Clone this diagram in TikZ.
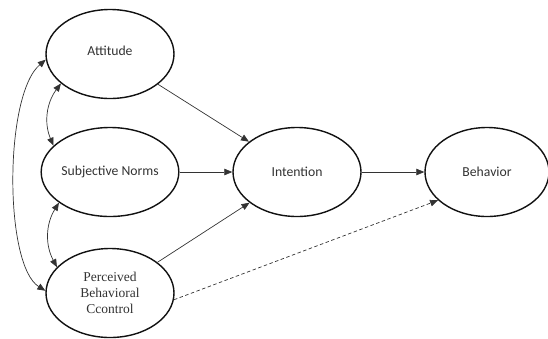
\documentclass[tikz,border=0pt]{standalone}
\usepackage{fontspec}
\setmainfont{Carlito}
\newfontfamily\pbcfont{Liberation Serif}
\usepackage{tikz}
\usetikzlibrary{shapes}
\usetikzlibrary{arrows.meta}
\usetikzlibrary{calc}
\usepackage{xcolor}
\definecolor{myblack}{HTML}{111111}
\definecolor{mygray}{HTML}{333333}
\tikzset{every text node part/.style={align=center, font={\fontsize{13.7}{16}\selectfont}}}
\tikzstyle{construct} = [ellipse, draw=myblack, fill=white, line width=1.4pt, minimum width=128pt, minimum height=89pt, inner sep=0pt, text=black!80]
\tikzstyle{ln} = [draw=mygray, line width=0.7pt, arrows={-Triangle[length=8pt, width=6.5pt]}]
\tikzstyle{dln} = [ln, dashed, dash pattern=on 3.5pt off 2.5pt]
\tikzstyle{cov} = [draw=mygray, line width=0.7pt, arrows={Triangle[length=8pt, width=6.5pt]-Triangle[length=8pt, width=6.5pt]}]

\begin{document}
\begin{tikzpicture}[x=1pt, y=-1pt]
  \useasboundingbox (0,0) rectangle (548,338);
  \node[construct] (attitude) at (110,54) {\raisebox{7pt}{Attitude}};
  \node[construct] (norms) at (110,172) {Subjective Norms};
  \node[construct] (control) at (110,293) {\pbcfont\fontsize{13.5}{16.5}\selectfont Perceived\\ \pbcfont\fontsize{13.5}{16.5}\selectfont Behavioral\\ \pbcfont\fontsize{13.5}{16.5}\selectfont Ccontrol};
  \node[construct] (intention) at (297,172) {Intention};
  \node[construct, minimum width=124pt] (behavior) at (487,172) {Behavior};
  \path[ln] (attitude) -- (intention);
  \path[ln] (norms) -- (intention);
  \path[ln] (control) -- (intention);
  \path[ln] (intention) -- (behavior);
  \path[dln] (control.-6) -- (behavior.210);
  \path[cov] (attitude.211) to[bend right=30] (norms.155);
  \path[cov] (norms.211) to[bend right=30] (control.154);
  \path[cov] (attitude.185) .. controls (4,95) and (4,265) .. (control.178);
\end{tikzpicture}
\end{document}
